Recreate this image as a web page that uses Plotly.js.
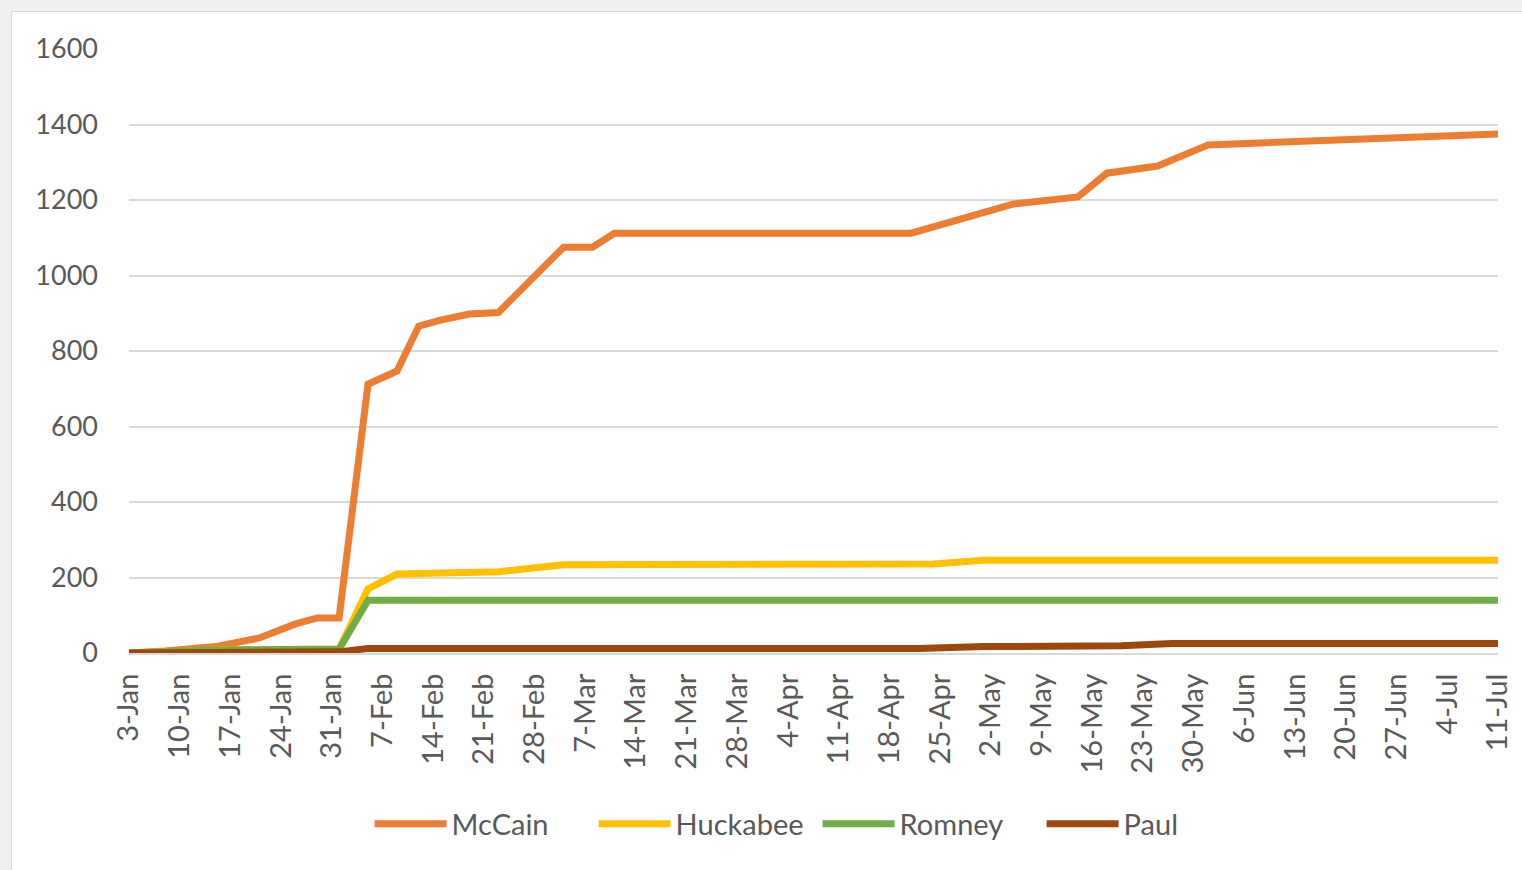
<!DOCTYPE html>
<html>
<head>
<meta charset="utf-8">
<script src="https://cdn.plot.ly/plotly-3.0.1.min.js"></script>
<style>
  html, body { margin: 0; padding: 0; background: #efefef; width: 1522px; height: 870px; overflow: hidden; }
  #chart { position: absolute; left: 11px; top: 11px; width: 1511px; height: 859px; background: #ffffff; border-left: 1px solid #d9d9d9; border-top: 1px solid #d9d9d9; box-sizing: border-box; }
</style>
</head>
<body>
<div id="chart"></div>
<script>
// Series data (dates are month-day, non-leap year so weekly ticks match the original labels)
const mccainDates = ['2007-01-03','2007-01-08','2007-01-15','2007-01-21','2007-01-26','2007-01-29','2007-02-01','2007-02-05','2007-02-09','2007-02-12','2007-02-15','2007-02-19','2007-02-23','2007-02-28','2007-03-04','2007-03-08','2007-03-11','2007-04-21','2007-04-28','2007-05-05','2007-05-14','2007-05-18','2007-05-25','2007-06-01','2007-07-11'];
const mccainValues = [0, 5, 17, 40, 77, 93, 93, 712, 747, 866, 882, 898, 902, 1000, 1075, 1075, 1112, 1112, 1149, 1189, 1208, 1271, 1290, 1346, 1375];

const huckabeeDates = ['2007-01-03','2007-01-08','2007-01-15','2007-01-29','2007-02-01','2007-02-05','2007-02-09','2007-02-23','2007-03-04','2007-04-24','2007-05-01','2007-07-11'];
const huckabeeValues = [0, 5, 8, 10, 10, 170, 209, 215, 234, 236, 246, 246];

const romneyDates = ['2007-01-03','2007-01-08','2007-01-15','2007-01-29','2007-02-01','2007-02-05','2007-07-11'];
const romneyValues = [0, 5, 8, 10, 10, 140, 140];

const paulDates = ['2007-01-03','2007-01-15','2007-02-01','2007-02-05','2007-04-22','2007-05-01','2007-05-20','2007-05-27','2007-07-11'];
const paulValues = [0, 2, 3, 12, 12, 17, 19, 25, 25];

const seriesNames = ['McCain', 'Huckabee', 'Romney', 'Paul'];
const seriesColors = ['#ED7D31', '#FFC000', '#70AD47', '#9E480E'];
const yTicks = [0, 200, 400, 600, 800, 1000, 1200, 1400, 1600];

const xs = [mccainDates, huckabeeDates, romneyDates, paulDates];
const ys = [mccainValues, huckabeeValues, romneyValues, paulValues];

const traces = seriesNames.map((n, i) => ({
  type: 'scatter',
  mode: 'lines',
  name: n,
  x: xs[i],
  y: ys[i],
  line: { color: seriesColors[i], width: 7, shape: 'linear' },
  hoverinfo: 'x+y+name'
}));

const font = "Lato, 'Open Sans', 'DejaVu Sans', sans-serif";

const layout = {
  width: 1511,
  height: 859,
  margin: { l: 117, r: 25, t: 37, b: 218 },
  paper_bgcolor: 'rgba(0,0,0,0)',
  plot_bgcolor: '#ffffff',
  font: { family: font, color: '#595959', size: 27 },
  showlegend: true,
  legend: {
    orientation: 'h',
    x: 0.503, xanchor: 'center',
    y: -0.283, yanchor: 'middle',
    font: { family: font, size: 29, color: '#595959' },
    itemwidth: 72,
    entrywidth: 137,
    entrywidthmode: 'pixels',
    tracegroupgap: 0
  },
  xaxis: {
    type: 'date',
    range: ['2007-01-03', '2007-07-11'],
    tick0: '2007-01-03',
    dtick: 7 * 86400000,
    tickformat: '%-d-%b',
    tickangle: -90,
    showgrid: false,
    showline: true,
    linecolor: '#d9d9d9',
    linewidth: 2,
    ticks: '',
    zeroline: false,
    ticklabelstandoff: 7,
    tickfont: { family: font, size: 29, color: '#595959' }
  },
  yaxis: {
    range: [0, 1600],
    tickvals: yTicks,
    ticktext: yTicks.map(String),
    showgrid: true,
    gridcolor: '#d9d9d9',
    gridwidth: 2,
    zeroline: false,
    showline: false,
    ticks: '',
    ticklabelstandoff: 30,
    tickfont: { family: font, size: 27, color: '#595959' }
  }
};

Plotly.newPlot('chart', traces, layout, { displayModeBar: false, staticPlot: true });
</script>
</body>
</html>
